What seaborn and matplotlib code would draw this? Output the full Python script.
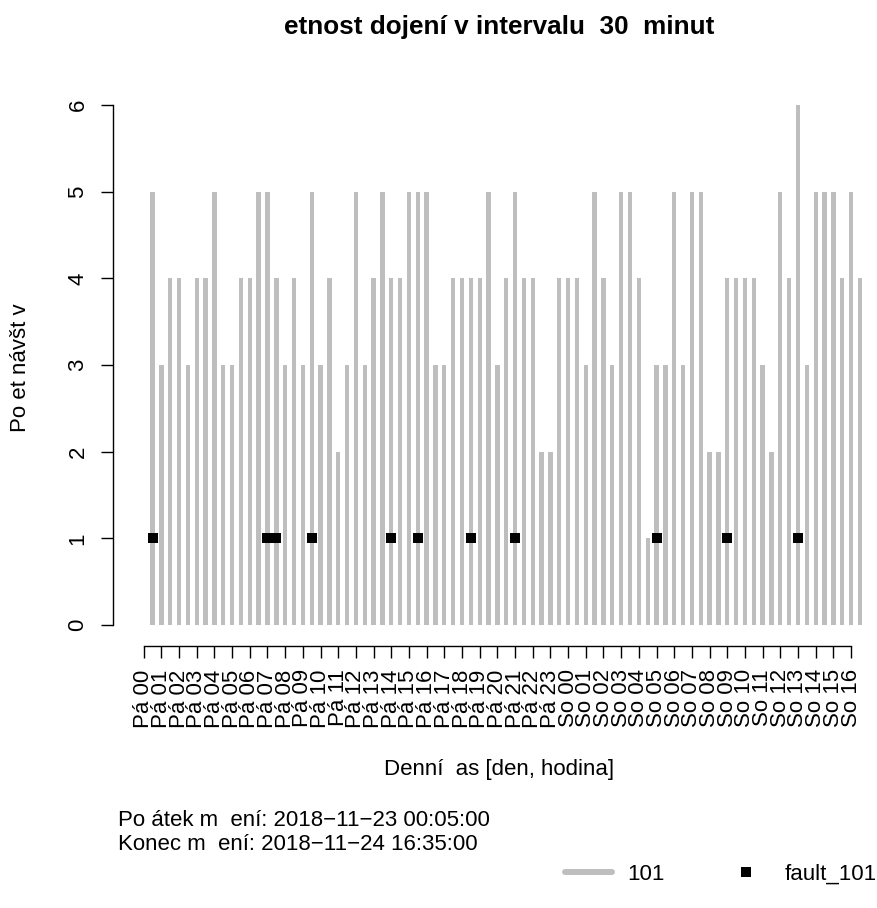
import numpy as np
import pandas as pd
import matplotlib
matplotlib.use("Agg")
import matplotlib.pyplot as plt
from matplotlib.lines import Line2D
import seaborn as sns

# Visits per 30-minute slot, starting Friday 00:00
visits = [0, 5, 3, 4, 4, 3, 4, 4, 5, 3, 3, 4, 4, 5, 5, 4, 3, 4, 3, 5, 3, 4, 2, 3, 5, 3, 4,
          5, 4, 4, 5, 5, 5, 3, 3, 4, 4, 4, 4, 5, 3, 4, 5, 4, 4, 2, 2, 4, 4, 4, 3, 5, 4, 3,
          5, 5, 4, 1, 3, 3, 5, 3, 5, 5, 2, 2, 4, 4, 4, 4, 3, 2, 5, 4, 6, 3, 5, 5, 5, 4, 5, 4]

# Slots (30-minute index) with a recorded fault, and the fault count
fault_slots = [1, 14, 15, 19, 28, 31, 37, 42, 58, 66, 74]
fault_values = [1, 1, 1, 1, 1, 1, 1, 1, 1, 1, 1]

tick_labels = ["Pá 00", "Pá 01", "Pá 02", "Pá 03", "Pá 04", "Pá 05", "Pá 06", "Pá 07",
               "Pá 08", "Pá 09", "Pá 10", "Pá 11", "Pá 12", "Pá 13", "Pá 14", "Pá 15",
               "Pá 16", "Pá 17", "Pá 18", "Pá 19", "Pá 20", "Pá 21", "Pá 22", "Pá 23",
               "So 00", "So 01", "So 02", "So 03", "So 04", "So 05", "So 06", "So 07",
               "So 08", "So 09", "So 10", "So 11", "So 12", "So 13", "So 14", "So 15",
               "So 16"]

title = "etnost dojení v intervalu  30  minut"
x_label = "Denní  as [den, hodina]"
y_label = "Po et návšt v"
start_text = "Po átek m  ení: 2018\u221211\u221223 00:05:00"
end_text = "Konec m  ení: 2018\u221211\u221224 16:35:00"

sns.set_theme(style="white")
plt.rcParams["font.family"] = ["Liberation Sans", "DejaVu Sans"]
plt.rcParams.update({
    "text.color": "black",
    "axes.labelcolor": "black",
    "xtick.color": "black",
    "ytick.color": "black",
    "axes.edgecolor": "black",
})

FS = 16
BAR_GREY = "#BEBEBE"

df = pd.DataFrame({"hour": np.arange(len(visits)) * 0.5, "visits": visits})
faults = pd.DataFrame({"hour": np.array(fault_slots) * 0.5, "count": fault_values})

W, H = 878, 908
fig = plt.figure(figsize=(W / 100, H / 100), dpi=100)
ax_left, ax_right, ax_top, ax_bottom = 113.3, 885.0, 84.2, 645.8
ax = fig.add_axes([ax_left / W, 1 - ax_bottom / H,
                   (ax_right - ax_left) / W, (ax_bottom - ax_top) / H])

sns.barplot(data=df, x="hour", y="visits", native_scale=True, color=BAR_GREY,
            saturation=1, width=0.49, errorbar=None, linewidth=0, ax=ax)
sns.scatterplot(data=faults, x="hour", y="count", marker="s", color="black",
                s=60, linewidth=0, ax=ax, zorder=3)

ax.set_xlim(-1.72, 41.92)
ax.set_ylim(-0.24, 6.24)

ax.set_xticks(np.arange(len(tick_labels)))
ax.set_xticklabels(tick_labels, rotation=90, fontsize=FS, va="top")
ax.set_yticks(range(0, 7))
ax.set_yticklabels([str(v) for v in range(0, 7)], rotation=90, fontsize=FS, va="center")

for side in ("top", "right"):
    ax.spines[side].set_visible(False)
ax.spines["left"].set_bounds(0, 6)
ax.spines["bottom"].set_bounds(0, len(tick_labels) - 1)
ax.spines["left"].set_linewidth(1.0)
ax.spines["bottom"].set_linewidth(1.0)
ax.tick_params(axis="both", direction="out", length=8.4, width=1.0,
               bottom=True, left=True)
ax.tick_params(axis="x", pad=8.5)
ax.tick_params(axis="y", pad=9.5)

ax.set_xlabel(x_label, fontsize=FS, va="center")
ax.xaxis.set_label_coords(0.5, (ax_bottom - 770) / (ax_bottom - ax_top))
ax.set_ylabel(y_label, fontsize=FS, va="center", ha="center")
ax.yaxis.set_label_coords((21 - ax_left) / (ax_right - ax_left),
                          (ax_bottom - 368) / (ax_bottom - ax_top))

fig.text(499 / W, 1 - 27 / H, title, fontsize=18.8, fontweight="bold",
         ha="center", va="center")
fig.text(118 / W, 1 - 820 / H, start_text, fontsize=FS, ha="left", va="center")
fig.text(118 / W, 1 - 845 / H, end_text, fontsize=FS, ha="left", va="center")

handles = [Line2D([0], [0], color=BAR_GREY, lw=4.3),
           Line2D([0], [0], color="black", marker="s", linestyle="none",
                  markersize=7.6, markeredgewidth=0)]
fig.legend(handles, ["101", "fault_101"], loc="center left",
           bbox_to_anchor=(565 / W, 1 - 874 / H), ncol=2, frameon=False,
           fontsize=FS, borderpad=0, borderaxespad=0, handlelength=2.11,
           handletextpad=0.68, columnspacing=2.6)

fig.savefig("out.png", dpi=100)
